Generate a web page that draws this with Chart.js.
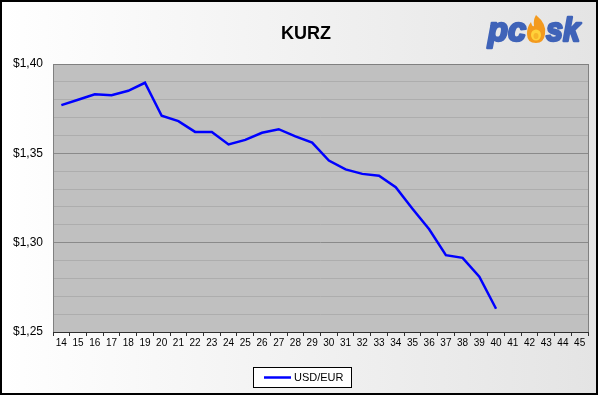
<!DOCTYPE html>
<html>
<head>
<meta charset="utf-8">
<script src="https://cdn.jsdelivr.net/npm/chart.js@4/dist/chart.umd.min.js"></script>
<style>
  html, body { margin: 0; padding: 0; background: #fff; }
  #wrap { width: 598px; height: 395px; }
</style>
</head>
<body>
<div id="wrap"><canvas id="kurz" width="598" height="395"></canvas></div>
<script>
/* ================= DATA ================= */
const weeks = ["14", "15", "16", "17", "18", "19", "20", "21", "22", "23", "24", "25", "26", "27", "28", "29",
               "30", "31", "32", "33", "34", "35", "36", "37", "38", "39", "40", "41", "42", "43", "44", "45"];
const usdEur = [1.377, 1.380, 1.383, 1.3825, 1.385, 1.3895, 1.371, 1.368, 1.362, 1.362, 1.355, 1.3575,
                1.3615, 1.3635, 1.3595, 1.356, 1.346, 1.341, 1.3385, 1.3375, 1.331, 1.319, 1.3075,
                1.293, 1.2915, 1.281, 1.263, null, null, null, null, null];
const seriesName = "USD/EUR";
const chartTitle = "KURZ";
const yMin = 1.25, yMax = 1.40;

const FONT = "'Liberation Sans', Arial, sans-serif";

/* ================= BACKGROUND / FRAME ================= */
const frame = {
    id: "frame",
    beforeDraw(chart) {
        const c = chart.ctx, w = chart.width, h = chart.height;
        const g = c.createLinearGradient(0, 0, w, 0);
        g.addColorStop(0, "#ffffff");
        g.addColorStop(1, "#e4e4e4");
        c.save();
        c.fillStyle = g;
        c.fillRect(0, 0, w, h);
        const a = chart.chartArea;
        c.fillStyle = "#c0c0c0";
        c.fillRect(a.left, a.top, a.right - a.left, a.bottom - a.top);
        c.restore();
    },
    afterDraw(chart) {
        const c = chart.ctx, w = chart.width, h = chart.height;
        const a = chart.chartArea;
        c.save();
        // plot border
        c.strokeStyle = "#808080";
        c.lineWidth = 1;
        c.strokeRect(a.left + 0.5, a.top + 0.5, a.right - a.left, a.bottom - a.top);
        c.strokeStyle = "#303030";
        c.beginPath();
        c.moveTo(a.left, a.bottom + 0.5);
        c.lineTo(a.right + 1, a.bottom + 0.5);
        c.stroke();
        // outer border
        c.strokeStyle = "#000";
        c.lineWidth = 2;
        c.strokeRect(1, 1, w - 2, h - 2);

        // title
        c.fillStyle = "#000";
        c.font = "bold 18px " + FONT;
        c.textAlign = "center";
        c.textBaseline = "middle";
        c.fillText(chartTitle, 306, 34);

        drawLogo(c);

        // legend
        c.fillStyle = "#fff";
        c.fillRect(253, 367, 98, 20);
        c.strokeStyle = "#000";
        c.lineWidth = 1;
        c.strokeRect(253.5, 367.5, 98, 20);
        c.strokeStyle = "#0000ff";
        c.lineWidth = 2.5;
        c.beginPath();
        c.moveTo(264, 377.5);
        c.lineTo(291, 377.5);
        c.stroke();
        c.fillStyle = "#000";
        c.font = "11px " + FONT;
        c.textAlign = "left";
        c.fillText(seriesName, 294, 378);
        c.restore();
    }
};

// text squeezed into a given width, stroked to look heavier
function fitText(c, txt, x, y, width) {
    const m = c.measureText(txt).width;
    c.save();
    c.translate(x, y);
    c.scale(width / m, 1);
    c.strokeText(txt, 0, 0);
    c.fillText(txt, 0, 0);
    c.restore();
}

function drawLogo(c) {
    c.save();
    const g = c.createLinearGradient(0, 14, 0, 52);
    g.addColorStop(0, "#3f63b8");
    g.addColorStop(1, "#1a347c");
    c.fillStyle = g;
    c.strokeStyle = g;
    c.lineWidth = 2.5;
    c.lineJoin = "round";
    c.font = "italic bold 34px " + FONT;
    c.textAlign = "left";
    c.textBaseline = "alphabetic";
    fitText(c, "pc", 488, 41, 38);
    fitText(c, "sk", 546, 41, 34);

    // flame ring
    c.fillStyle = "#f39a1e";
    c.beginPath();
    c.moveTo(536, 15);
    c.quadraticCurveTo(547, 24, 545, 34);
    c.quadraticCurveTo(544, 43, 536, 43);
    c.quadraticCurveTo(527, 43, 527, 34);
    c.quadraticCurveTo(527, 27, 531, 22);
    c.quadraticCurveTo(532, 27, 534, 26);
    c.quadraticCurveTo(533, 20, 536, 15);
    c.fill();
    c.fillStyle = "#ffd23a";
    c.beginPath();
    c.ellipse(536, 35, 5, 5.5, 0, 0, Math.PI * 2);
    c.fill();
    c.fillStyle = "#f7b52a";
    c.beginPath();
    c.ellipse(536, 36, 2.5, 3, 0, 0, Math.PI * 2);
    c.fill();
    c.restore();
}

/* ================= CHART ================= */
const isMajor = v => Math.round(v * 100) % 5 === 0;

new Chart(document.getElementById("kurz"), {
    type: "line",
    data: {
        labels: weeks,
        datasets: [{
            label: seriesName,
            data: usdEur,
            borderColor: "#0000ff",
            borderWidth: 2.5,
            pointRadius: 0,
            tension: 0,
            spanGaps: false
        }]
    },
    options: {
        responsive: false,
        animation: false,
        layout: { padding: { left: 0, right: 10, top: 64, bottom: 43 } },
        plugins: {
            legend: { display: false },
            title: { display: false },
            tooltip: { enabled: false }
        },
        scales: {
            x: {
                offset: true,
                grid: {
                    offset: true,
                    drawOnChartArea: false,
                    drawTicks: true,
                    tickLength: 4,
                    color: "#303030"
                },
                border: { display: false },
                ticks: {
                    color: "#000",
                    font: { family: FONT, size: 10 },
                    maxRotation: 0,
                    autoSkip: false,
                    padding: 1
                },
                afterFit(scale) { scale.height = 20; }
            },
            y: {
                min: yMin,
                max: yMax,
                grid: {
                    drawTicks: false,
                    color: ctx => isMajor(ctx.tick.value) ? "#8a8a8a" : "#adadad"
                },
                border: { display: false },
                ticks: {
                    stepSize: 0.01,
                    padding: 10,
                    color: "#000",
                    font: { family: FONT, size: 12 },
                    callback: v => isMajor(v) ? "$" + v.toFixed(2).replace(".", ",") : ""
                },
                afterFit(scale) { scale.width = 53; }
            }
        }
    },
    plugins: [frame]
});
</script>
</body>
</html>
